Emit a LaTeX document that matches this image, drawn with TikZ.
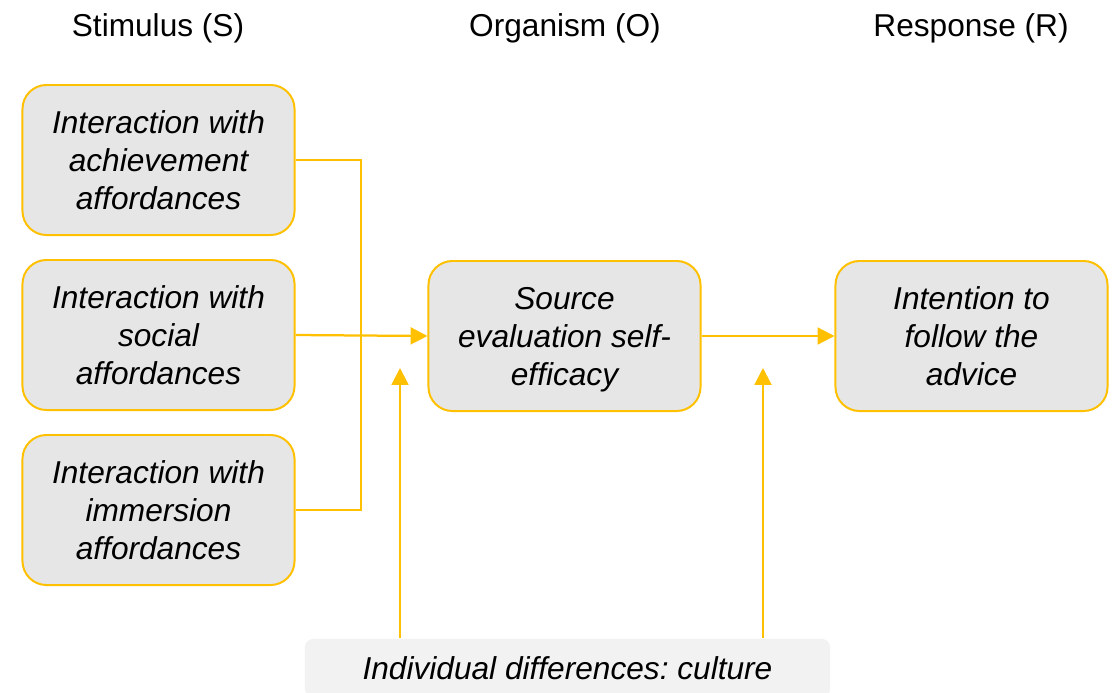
\documentclass[tikz,border=0pt]{standalone}
\usepackage{fontspec}
\setmainfont{Liberation Sans}
\usetikzlibrary{arrows.meta}
\definecolor{gold}{HTML}{FFC000}
\definecolor{boxgray}{HTML}{E6E6E6}
\definecolor{lightgray}{HTML}{F2F2F2}
\frenchspacing
\begin{document}
\begin{tikzpicture}[x=0.025cm, y=-0.025cm,%
% common options for the rounded boxes:
block/.style = {draw=gold, line width=1.4pt, fill=boxgray, rounded corners=0.6cm,
            align=center, minimum width=6.8cm, minimum height=3.75cm, text depth=0pt,
            font=\fontsize{22.5}{27}\selectfont\itshape, inner sep=0},
% common options for the column titles:
title/.style = {font=\fontsize{22.5}{27}\selectfont, inner sep=0},
% common options for the connectors:
link/.style = {draw=gold, line width=1.6pt},
arr/.style = {link, -{Triangle[length=12pt,width=12pt]}}]
\clip (0,0) rectangle (1118,692);
\node[title] (S) at (158,28) {Stimulus (S)};
\node[title] (O) at (565,28) {Organism (O)};
\node[title] (R) at (971,28) {Response (R)};
\node[block] (A1) at (158.5,160) {Interaction with\\achievement\\affordances};
\node[block] (A2) at (158.5,335) {Interaction with\\social\\affordances};
\node[block] (A3) at (158.5,510) {Interaction with\\immersion\\affordances};
\node[block] (B1) at (564.5,336) {Source\\evaluation self-\\efficacy};
\node[block] (C1) at (971.5,336) {Intention to\\follow the\\advice};
\node[block, draw=none, fill=lightgray, rounded corners=0.2cm, minimum width=13.125cm,
      minimum height=1.45cm, anchor=north] (D1) at (567.5,638)
      {Individual differences: culture};
\coordinate (J) at (361,160);
\coordinate (UL) at (400,368);
\coordinate (UR) at (763,368);
\draw[link] (A1.east) -- (J) -- (J |- A3.east) -- (A3.east);
\draw[arr] (A2.east) -- (B1.west);
\draw[arr] (B1.east) -- (C1.west);
\draw[arr] (UL |- D1.north) -- (UL);
\draw[arr] (UR |- D1.north) -- (UR);
\end{tikzpicture}
\end{document}
